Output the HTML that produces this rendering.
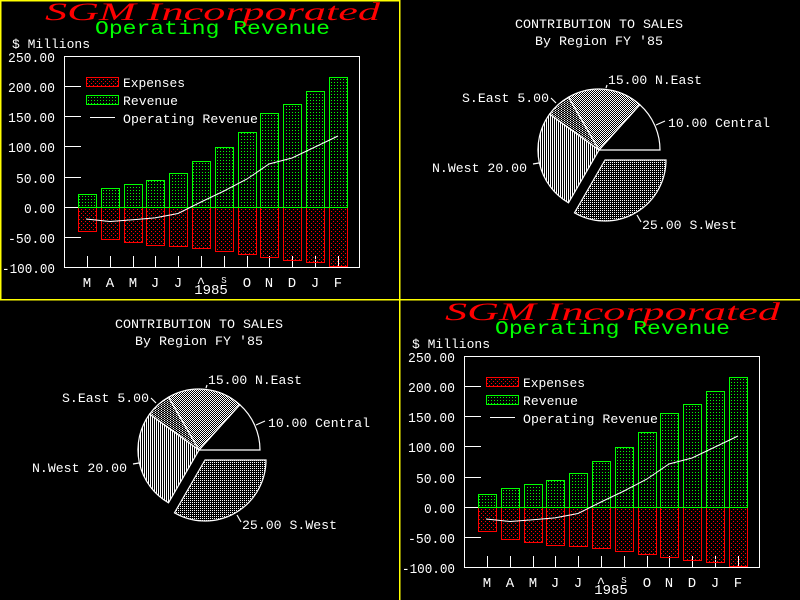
<!DOCTYPE html>
<html><head><meta charset="utf-8"><style>html,body{margin:0;padding:0;background:#000}svg{display:block}</style></head>
<body>
<svg width="800" height="600" viewBox="0 0 800 600" xmlns="http://www.w3.org/2000/svg" font-family="Liberation Mono, monospace">
<defs>
<pattern id="pg" width="3" height="3" patternUnits="userSpaceOnUse"><rect x="1" y="1" width="1" height="1" fill="#0f0"/></pattern>
<pattern id="pr" width="4" height="4" patternUnits="userSpaceOnUse"><rect x="1" y="1" width="1" height="1" fill="#f00"/><rect x="3" y="3" width="1" height="1" fill="#f00"/></pattern>
<pattern id="pchk" width="2" height="2" patternUnits="userSpaceOnUse"><rect x="0" y="0" width="1" height="1" fill="#fff"/><rect x="1" y="1" width="1" height="1" fill="#fff"/></pattern>
<pattern id="pdot" width="2" height="2" patternUnits="userSpaceOnUse"><rect x="0" y="0" width="1" height="1" fill="#fff"/></pattern>
<pattern id="pdot3" width="3" height="2" patternUnits="userSpaceOnUse"><rect x="0" y="0" width="1" height="1" fill="#fff"/><rect x="1.5" y="1" width="1" height="1" fill="#fff"/></pattern>
<pattern id="pvl" width="2" height="2" patternUnits="userSpaceOnUse"><rect x="0" y="0" width="1" height="2" fill="#fff"/></pattern>
</defs>
<rect width="800" height="600" fill="#000"/>

<g id="chartA">
<text x="45" y="20" font-family="Liberation Serif, serif" font-style="italic" font-size="25" fill="#f00" textLength="335" lengthAdjust="spacingAndGlyphs">SGM Incorporated</text>
<text x="95" y="34" font-family="Liberation Mono, monospace" font-size="19" fill="#0f0" textLength="235" lengthAdjust="spacingAndGlyphs">Operating Revenue</text>
<text x="12" y="48" font-size="13" fill="#fff" textLength="78" lengthAdjust="spacingAndGlyphs">$ Millions</text>
<g font-size="14" fill="#fff" text-anchor="end">
<text x="55" y="62" textLength="47" lengthAdjust="spacingAndGlyphs">250.00</text><text x="55" y="92" textLength="47" lengthAdjust="spacingAndGlyphs">200.00</text><text x="55" y="122" textLength="47" lengthAdjust="spacingAndGlyphs">150.00</text><text x="55" y="152" textLength="47" lengthAdjust="spacingAndGlyphs">100.00</text><text x="55" y="183" textLength="39" lengthAdjust="spacingAndGlyphs">50.00</text><text x="55" y="213" textLength="31" lengthAdjust="spacingAndGlyphs">0.00</text><text x="55" y="243" textLength="47" lengthAdjust="spacingAndGlyphs">-50.00</text><text x="55" y="273" textLength="53" lengthAdjust="spacingAndGlyphs">-100.00</text>
</g>
<g stroke="#fff" stroke-width="1" shape-rendering="crispEdges">
<rect x="64.5" y="56.5" width="295" height="211" fill="none"/>
<path d="M64 86.5H81M64 116.5H81M64 146.5H81M64 177.5H81M64 207.5H78M64 237.5H81"/>
<path d="M87.5 256V268M110.5 256V268M133.5 256V268M155.5 256V268M178.5 256V268M201.5 256V268M224.5 256V268M247.5 256V268M269.5 256V268M292.5 256V268M315.5 256V268M338.5 256V268"/>
</g>
<g stroke-width="1">
<g fill="url(#pg)" stroke="#0f0">
<rect x="78.5" y="194.5" width="18" height="13"/><rect x="101.5" y="188.5" width="18" height="19"/><rect x="124.5" y="184.5" width="18" height="23"/><rect x="146.5" y="180.5" width="18" height="27"/><rect x="169.5" y="173.5" width="18" height="34"/><rect x="192.5" y="161.5" width="18" height="46"/><rect x="215.5" y="147.5" width="18" height="60"/><rect x="238.5" y="132.5" width="18" height="75"/><rect x="260.5" y="113.5" width="18" height="94"/><rect x="283.5" y="104.5" width="18" height="103"/><rect x="306.5" y="91.5" width="18" height="116"/><rect x="329.5" y="77.5" width="18" height="130"/>
</g>
<g fill="url(#pr)" stroke="#f00">
<rect x="78.5" y="207.5" width="18" height="24"/><rect x="101.5" y="207.5" width="18" height="32"/><rect x="124.5" y="207.5" width="18" height="35"/><rect x="146.5" y="207.5" width="18" height="38"/><rect x="169.5" y="207.5" width="18" height="39"/><rect x="192.5" y="207.5" width="18" height="41"/><rect x="215.5" y="207.5" width="18" height="44"/><rect x="238.5" y="207.5" width="18" height="47"/><rect x="260.5" y="207.5" width="18" height="50"/><rect x="283.5" y="207.5" width="18" height="53"/><rect x="306.5" y="207.5" width="18" height="55"/><rect x="329.5" y="207.5" width="18" height="59"/>
</g>
<path d="M78 207.5H348" stroke="#0f0"/>
</g>
<polyline fill="none" stroke="#fff" stroke-width="1" points="86,219 110,221.5 133,219.7 155,217.9 178,213.5 201,202 224,191 247,179 269,164 292,158 315,147 338,136"/>
<rect x="86.5" y="77.5" width="32" height="9" fill="url(#pr)" stroke="#f00"/>
<rect x="86.5" y="95.5" width="32" height="9" fill="url(#pg)" stroke="#0f0"/>
<path d="M90 117.5H115" stroke="#fff" shape-rendering="crispEdges"/>
<g font-size="13" fill="#fff">
<text x="123" y="87" textLength="62" lengthAdjust="spacingAndGlyphs">Expenses</text>
<text x="123" y="105" textLength="55" lengthAdjust="spacingAndGlyphs">Revenue</text>
<text x="123" y="123" textLength="135" lengthAdjust="spacingAndGlyphs">Operating Revenue</text>
</g>
<g font-size="14" fill="#fff" text-anchor="middle">
<text x="87" y="287">M</text><text x="110" y="287">A</text><text x="133" y="287">M</text><text x="155" y="287">J</text><text x="178" y="287">J</text><text x="201" y="287">^</text><text x="224" y="283" font-size="9">S</text><text x="247" y="287">O</text><text x="269" y="287">N</text><text x="292" y="287">D</text><text x="315" y="287">J</text><text x="338" y="287">F</text>
<text x="211" y="294">1985</text>
</g>
</g>

<g transform="translate(400,300)">
<text x="45" y="20" font-family="Liberation Serif, serif" font-style="italic" font-size="25" fill="#f00" textLength="335" lengthAdjust="spacingAndGlyphs">SGM Incorporated</text>
<text x="95" y="34" font-family="Liberation Mono, monospace" font-size="19" fill="#0f0" textLength="235" lengthAdjust="spacingAndGlyphs">Operating Revenue</text>
<text x="12" y="48" font-size="13" fill="#fff" textLength="78" lengthAdjust="spacingAndGlyphs">$ Millions</text>
<g font-size="14" fill="#fff" text-anchor="end">
<text x="55" y="62" textLength="47" lengthAdjust="spacingAndGlyphs">250.00</text><text x="55" y="92" textLength="47" lengthAdjust="spacingAndGlyphs">200.00</text><text x="55" y="122" textLength="47" lengthAdjust="spacingAndGlyphs">150.00</text><text x="55" y="152" textLength="47" lengthAdjust="spacingAndGlyphs">100.00</text><text x="55" y="183" textLength="39" lengthAdjust="spacingAndGlyphs">50.00</text><text x="55" y="213" textLength="31" lengthAdjust="spacingAndGlyphs">0.00</text><text x="55" y="243" textLength="47" lengthAdjust="spacingAndGlyphs">-50.00</text><text x="55" y="273" textLength="53" lengthAdjust="spacingAndGlyphs">-100.00</text>
</g>
<g stroke="#fff" stroke-width="1" shape-rendering="crispEdges">
<rect x="64.5" y="56.5" width="295" height="211" fill="none"/>
<path d="M64 86.5H81M64 116.5H81M64 146.5H81M64 177.5H81M64 207.5H78M64 237.5H81"/>
<path d="M87.5 256V268M110.5 256V268M133.5 256V268M155.5 256V268M178.5 256V268M201.5 256V268M224.5 256V268M247.5 256V268M269.5 256V268M292.5 256V268M315.5 256V268M338.5 256V268"/>
</g>
<g stroke-width="1">
<g fill="url(#pg)" stroke="#0f0">
<rect x="78.5" y="194.5" width="18" height="13"/><rect x="101.5" y="188.5" width="18" height="19"/><rect x="124.5" y="184.5" width="18" height="23"/><rect x="146.5" y="180.5" width="18" height="27"/><rect x="169.5" y="173.5" width="18" height="34"/><rect x="192.5" y="161.5" width="18" height="46"/><rect x="215.5" y="147.5" width="18" height="60"/><rect x="238.5" y="132.5" width="18" height="75"/><rect x="260.5" y="113.5" width="18" height="94"/><rect x="283.5" y="104.5" width="18" height="103"/><rect x="306.5" y="91.5" width="18" height="116"/><rect x="329.5" y="77.5" width="18" height="130"/>
</g>
<g fill="url(#pr)" stroke="#f00">
<rect x="78.5" y="207.5" width="18" height="24"/><rect x="101.5" y="207.5" width="18" height="32"/><rect x="124.5" y="207.5" width="18" height="35"/><rect x="146.5" y="207.5" width="18" height="38"/><rect x="169.5" y="207.5" width="18" height="39"/><rect x="192.5" y="207.5" width="18" height="41"/><rect x="215.5" y="207.5" width="18" height="44"/><rect x="238.5" y="207.5" width="18" height="47"/><rect x="260.5" y="207.5" width="18" height="50"/><rect x="283.5" y="207.5" width="18" height="53"/><rect x="306.5" y="207.5" width="18" height="55"/><rect x="329.5" y="207.5" width="18" height="59"/>
</g>
<path d="M78 207.5H348" stroke="#0f0"/>
</g>
<polyline fill="none" stroke="#fff" stroke-width="1" points="86,219 110,221.5 133,219.7 155,217.9 178,213.5 201,202 224,191 247,179 269,164 292,158 315,147 338,136"/>
<rect x="86.5" y="77.5" width="32" height="9" fill="url(#pr)" stroke="#f00"/>
<rect x="86.5" y="95.5" width="32" height="9" fill="url(#pg)" stroke="#0f0"/>
<path d="M90 117.5H115" stroke="#fff" shape-rendering="crispEdges"/>
<g font-size="13" fill="#fff">
<text x="123" y="87" textLength="62" lengthAdjust="spacingAndGlyphs">Expenses</text>
<text x="123" y="105" textLength="55" lengthAdjust="spacingAndGlyphs">Revenue</text>
<text x="123" y="123" textLength="135" lengthAdjust="spacingAndGlyphs">Operating Revenue</text>
</g>
<g font-size="14" fill="#fff" text-anchor="middle">
<text x="87" y="287">M</text><text x="110" y="287">A</text><text x="133" y="287">M</text><text x="155" y="287">J</text><text x="178" y="287">J</text><text x="201" y="287">^</text><text x="224" y="283" font-size="9">S</text><text x="247" y="287">O</text><text x="269" y="287">N</text><text x="292" y="287">D</text><text x="315" y="287">J</text><text x="338" y="287">F</text>
<text x="211" y="294">1985</text>
</g>
</g>

<g>
<g font-size="13" fill="#fff">
<text x="515" y="28" textLength="168" lengthAdjust="spacingAndGlyphs">CONTRIBUTION TO SALES</text>
<text x="535" y="45" textLength="128" lengthAdjust="spacingAndGlyphs">By Region FY '85</text>
<text x="608" y="84" textLength="94" lengthAdjust="spacingAndGlyphs">15.00 N.East</text>
<text x="462" y="102" textLength="87" lengthAdjust="spacingAndGlyphs">S.East 5.00</text>
<text x="668" y="127" textLength="102" lengthAdjust="spacingAndGlyphs">10.00 Central</text>
<text x="432" y="172" textLength="95" lengthAdjust="spacingAndGlyphs">N.West 20.00</text>
<text x="642" y="229" textLength="95" lengthAdjust="spacingAndGlyphs">25.00 S.West</text>
</g>
<g stroke="#fff" stroke-width="1.2">
<path d="M599,150 L660,150 A61,61 0 0 0 639.8,104.7 Z" fill="#000"/>
<path d="M599,150 L639.8,104.7 A61,61 0 0 0 568.5,97.2 Z" fill="url(#pchk)"/>
<path d="M599,150 L568.5,97.2 A61,61 0 0 0 549.6,114.1 Z" fill="url(#pdot3)"/>
<path d="M599,150 L549.6,114.1 A61,61 0 0 0 568.5,202.8 Z" fill="url(#pvl)"/>
<path d="M605,160 L574.5,212.8 A61,61 0 0 0 666,160 Z" fill="url(#pdot)"/>
<path d="M606,88 L607,85 M551,98 L556,103 M656,125 L665,121 M533,164 L539,163 M637,215 L641,222" fill="none"/>
</g>
</g>

<g transform="translate(-400,300)">
<g font-size="13" fill="#fff">
<text x="515" y="28" textLength="168" lengthAdjust="spacingAndGlyphs">CONTRIBUTION TO SALES</text>
<text x="535" y="45" textLength="128" lengthAdjust="spacingAndGlyphs">By Region FY '85</text>
<text x="608" y="84" textLength="94" lengthAdjust="spacingAndGlyphs">15.00 N.East</text>
<text x="462" y="102" textLength="87" lengthAdjust="spacingAndGlyphs">S.East 5.00</text>
<text x="668" y="127" textLength="102" lengthAdjust="spacingAndGlyphs">10.00 Central</text>
<text x="432" y="172" textLength="95" lengthAdjust="spacingAndGlyphs">N.West 20.00</text>
<text x="642" y="229" textLength="95" lengthAdjust="spacingAndGlyphs">25.00 S.West</text>
</g>
<g stroke="#fff" stroke-width="1.2">
<path d="M599,150 L660,150 A61,61 0 0 0 639.8,104.7 Z" fill="#000"/>
<path d="M599,150 L639.8,104.7 A61,61 0 0 0 568.5,97.2 Z" fill="url(#pchk)"/>
<path d="M599,150 L568.5,97.2 A61,61 0 0 0 549.6,114.1 Z" fill="url(#pdot3)"/>
<path d="M599,150 L549.6,114.1 A61,61 0 0 0 568.5,202.8 Z" fill="url(#pvl)"/>
<path d="M605,160 L574.5,212.8 A61,61 0 0 0 666,160 Z" fill="url(#pdot)"/>
<path d="M606,88 L607,85 M551,98 L556,103 M656,125 L665,121 M533,164 L539,163 M637,215 L641,222" fill="none"/>
</g>
</g>

<g stroke="#ff0" stroke-width="1.5" shape-rendering="crispEdges" fill="none">
<path d="M0 0.5H400M0.5 0V300M399.5 0V600M0 299.5H800"/>
</g>
</svg>
</body></html>
